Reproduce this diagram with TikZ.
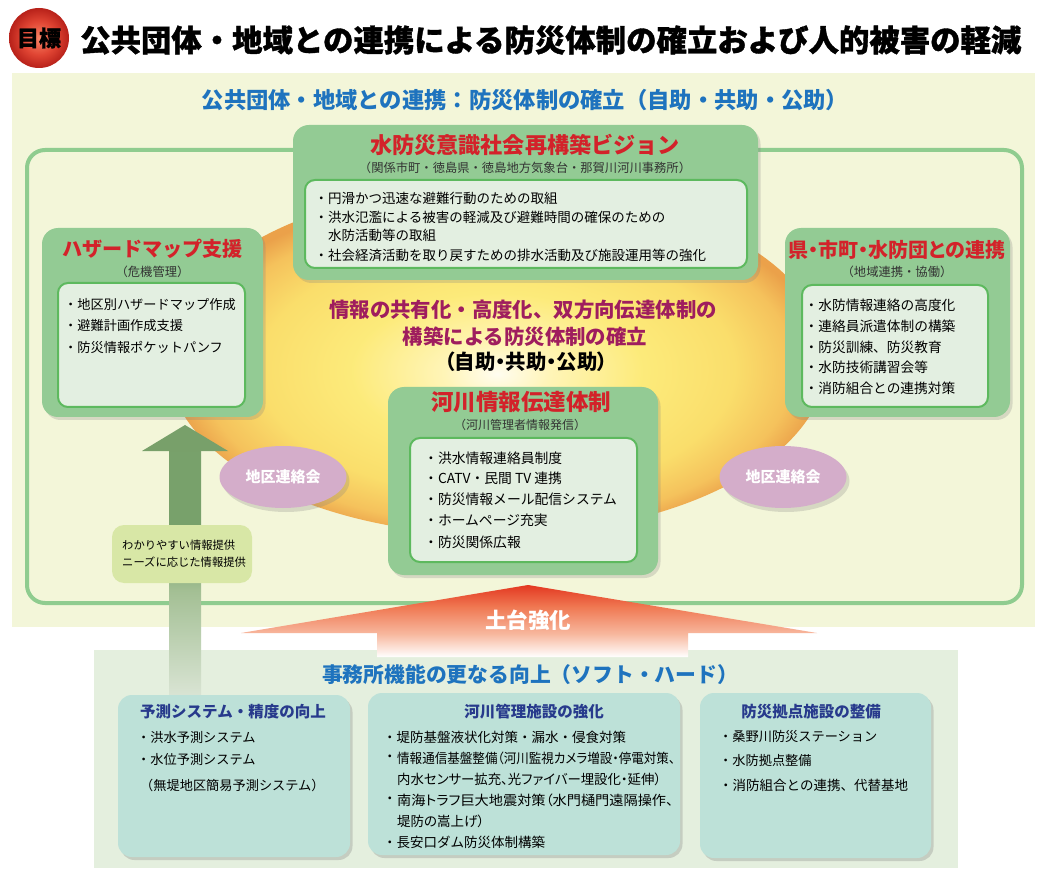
\documentclass[tikz,border=0pt]{standalone}
\usepackage{fontspec}
\setmainfont{Noto Sans CJK JP}
\newfontfamily\jpp[RawFeature=+palt]{Noto Sans CJK JP}
\newfontfamily\heavy[BoldFeatures={FakeBold=1.2}]{Noto Sans CJK JP}
\usetikzlibrary{shadows,shapes.geometric}
\newcommand\fsz[1]{\fontsize{#1}{#1}\selectfont}
\definecolor{panel}{HTML}{F3F6D9}
\definecolor{bpanel}{HTML}{E4EFDE}
\definecolor{framegreen}{HTML}{8FCC8F}
\definecolor{boxgreen}{HTML}{93CB94}
\definecolor{innerfill}{HTML}{E3EFE1}
\definecolor{innerline}{HTML}{5DB95E}
\definecolor{titlered}{HTML}{D3222A}
\definecolor{magentat}{HTML}{9F1D5E}
\definecolor{topblue}{HTML}{1E73BE}
\definecolor{navyt}{HTML}{273A8C}
\definecolor{pinkell}{HTML}{D4ADCA}
\definecolor{labelg}{HTML}{D8E7A6}
\definecolor{tealbox}{HTML}{BDE1D8}
\definecolor{arrowg}{HTML}{78A06A}
\definecolor{subgray}{HTML}{333333}
\pgfdeclareradialshading{sun}{\pgfpoint{0bp}{-2bp}}{rgb(0bp)=(1,0.99,0.94); rgb(4bp)=(1,0.96,0.72); rgb(11bp)=(0.99,0.92,0.48); rgb(18bp)=(0.98,0.87,0.42); rgb(22.5bp)=(0.96,0.76,0.36); rgb(25bp)=(0.92,0.63,0.29); rgb(50bp)=(0.92,0.63,0.29)}
\pgfdeclareradialshading{ballred}{\pgfpoint{0bp}{0bp}}{rgb(0bp)=(0.98,0.52,0.4); rgb(14bp)=(0.88,0.27,0.2); rgb(25bp)=(0.72,0.13,0.1); rgb(50bp)=(0.72,0.13,0.1)}
\pgfdeclareverticalshading{redup}{100bp}{rgb(0bp)=(1,1,1); rgb(25bp)=(1,1,1); rgb(41bp)=(0.97,0.72,0.62); rgb(60bp)=(0.94,0.47,0.32); rgb(75bp)=(0.89,0.22,0.13); rgb(100bp)=(0.89,0.22,0.13)}
\pgfdeclareverticalshading{shaftfade}{100bp}{rgb(0bp)=(0.86,0.9,0.84); rgb(25bp)=(0.86,0.9,0.84); rgb(47bp)=(0.64,0.75,0.58); rgb(55bp)=(0.47,0.63,0.42); rgb(100bp)=(0.47,0.63,0.42)}
\tikzset{
  greenbox/.style={draw=none, fill=boxgreen, rounded corners=16pt, inner sep=0pt,
    drop shadow={opacity=0.25, shadow xshift=2.5pt, shadow yshift=-3pt}},
  innerbox/.style={draw=innerline, line width=2pt, fill=innerfill, rounded corners=10pt, inner sep=0pt},
  tealb/.style={draw=none, fill=tealbox, rounded corners=14pt, inner sep=0pt,
    drop shadow={opacity=0.3, shadow xshift=2.5pt, shadow yshift=-3pt}},
  item/.style={anchor=west, inner sep=0pt, text=black},
  redtitle/.style={inner sep=0pt, text=titlered},
  subt/.style={inner sep=0pt, text=subgray},
  navytitle/.style={inner sep=0pt, text=navyt, font=\fsz{15.5}\bfseries},
  pinkel/.style={ellipse, fill=pinkell, inner sep=0pt, minimum width=127pt, minimum height=62pt,
    text=white, font=\fsz{15}\bfseries, drop shadow={opacity=0.25, shadow xshift=3pt, shadow yshift=-4pt}},
}
\begin{document}
\begin{tikzpicture}[x=1pt,y=-1pt]
\useasboundingbox (0,0) rectangle (1045,877);
\fill[white] (0,0) rectangle (1045,877);
% title
\node[circle, minimum size=60pt, inner sep=0pt, shading=ballred] (ball) at (39,38) {};
\node[inner sep=0pt] (balltext) at (ball.center) {\heavy\fsz{22}\bfseries 目標};
\node[anchor=west, inner sep=0pt] (maintitle) at (80,40) {\heavy\fsz{30.4}\bfseries 公共団体・地域との連携による防災体制の確立および人的被害の軽減};
% panels
\fill[panel] (12,73) rectangle (1035,627);
\fill[bpanel] (94,650) rectangle (958,868);
\node[inner sep=0pt, text=topblue] (toptitle) at (525,100) {\fsz{22.3}\bfseries 公共団体・地域との連携：防災体制の確立（自助・共助・公助）};
\draw[framegreen, line width=4pt, rounded corners=18pt] (27,150) rectangle (1022,603);
% sun
\path[shading=sun] (497,360) ellipse [x radius=330pt, y radius=175pt];
% green up arrow
\path[shading=shaftfade] (169,451) rectangle (201,700);
\fill[arrowg] (185,425) -- (228,451) -- (142,451) -- cycle;
\node[fill=labelg, rounded corners=12pt, minimum width=140pt, minimum height=58pt, inner sep=0pt] (label) at (182,554) {};
\node[anchor=west, inner sep=0pt, align=left] (labeltext) at (122,554) {\fsz{11.3}わかりやすい情報提供\\[5pt]\fsz{11.3}ニーズに応じた情報提供};
% red arrow
\path[shading=redup] (528,585) -- (817,633) -- (688,633) -- (688,657) -- (377,657) -- (377,633) -- (241,633) -- cycle;
\node[inner sep=0pt, text=white] (dodai) at (528,620) {\fsz{21.5}\bfseries 土台強化};
% top box
\node[greenbox, minimum width=465pt, minimum height=155pt] (topbox) at (525.5,202.5) {};
\node[redtitle] (toptitle2) at (525,145) {\fsz{22.1}\bfseries 水防災意識社会再構築ビジョン};
\node[subt] (topsub) at (525,168) {\fsz{12.3}（関係市町・徳島県・徳島地方気象台・那賀川河川事務所）};
\node[innerbox, minimum width=442pt, minimum height=88pt] (topinner) at (526,224) {};
\node[item] (t1) at (314.5,198) {\fsz{13.5}・円滑かつ迅速な避難行動のための取組};
\node[item] (t2) at (314.5,217) {\fsz{13.5}・洪水氾濫による被害の軽減及び避難時間の確保のための};
\node[item] (t3) at (328,235.5) {\fsz{13.5}水防活動等の取組};
\node[item] (t4) at (314.5,255) {\fsz{13.5}・社会経済活動を取り戻すための排水活動及び施設運用等の強化};
% left box
\node[greenbox, minimum width=221pt, minimum height=189pt] (leftbox) at (152.5,322.5) {};
\node[redtitle] (lefttitle) at (152.5,249) {\fsz{20.1}\bfseries ハザードマップ支援};
\node[subt] (leftsub) at (152.5,272) {\fsz{12.3}（危機管理）};
\node[innerbox, minimum width=187pt, minimum height=124pt] (leftinner) at (151.5,345) {};
\node[item] (l1) at (64,305) {\fsz{13.2}・地区別ハザードマップ作成};
\node[item] (l2) at (64,326) {\fsz{13.2}・避難計画作成支援};
\node[item] (l3) at (64,347) {\fsz{13.2}・防災情報ポケットパンフ};
% right box
\node[greenbox, minimum width=225pt, minimum height=189pt] (rightbox) at (897.5,322.5) {};
\node[redtitle] (righttitle) at (897,250) {\jpp\fsz{20}\bfseries 県・市町・水防団との連携};
\node[subt] (rightsub) at (897,272) {\fsz{12.3}（地域連携・協働）};
\node[innerbox, minimum width=186pt, minimum height=122pt] (rightinner) at (895,346) {};
\node[item] (r1) at (804.5,305) {\fsz{13.7}・水防情報連絡の高度化};
\node[item] (r2) at (804.5,326) {\fsz{13.7}・連絡員派遣体制の構築};
\node[item] (r3) at (804.5,347) {\fsz{13.7}・防災訓練、防災教育};
\node[item] (r4) at (804.5,367) {\fsz{13.7}・水防技術講習会等};
\node[item] (r5) at (804.5,388) {\fsz{13.7}・消防組合との連携対策};
% center text
\node[inner sep=0pt, text=magentat] (c1) at (523,310) {\fsz{20.4}\bfseries 情報の共有化・高度化、双方向伝達体制の};
\node[inner sep=0pt, text=magentat] (c2) at (525,337) {\fsz{20.4}\bfseries 構築による防災体制の確立};
\node[inner sep=0pt, text=black] (c3) at (526,362) {\jpp\fsz{20.4}\bfseries （自助・共助・公助）};
% center box
\node[greenbox, minimum width=270pt, minimum height=188pt] (centerbox) at (523,481) {};
\node[redtitle] (centertitle) at (521,402) {\fsz{22.5}\bfseries 河川情報伝達体制};
\node[subt] (centersub) at (520,425) {\fsz{12}（河川管理者情報発信）};
\node[innerbox, minimum width=227pt, minimum height=124pt] (centerinner) at (523.5,500) {};
\node[item] (m1) at (424,458) {\fsz{13.8}・洪水情報連絡員制度};
\node[item] (m2) at (424,478) {\fsz{13.8}・CATV・民間 TV 連携};
\node[item] (m3) at (424,499) {\fsz{13.8}・防災情報メール配信システム};
\node[item] (m4) at (424,520) {\fsz{13.8}・ホームページ充実};
\node[item] (m5) at (424,542) {\fsz{13.8}・防災関係広報};
% district ellipses
\node[pinkel] (dleft) at (283,477) {地区連絡会};
\node[pinkel] (dright) at (783,477) {地区連絡会};
% bottom section
\node[inner sep=0pt, text=topblue] (bottomtitle) at (530,675) {\fsz{20.8}\bfseries 事務所機能の更なる向上（ソフト・ハード）};
\node[tealb, minimum width=232pt, minimum height=162pt] (b1) at (234,776) {};
\node[navytitle] (b1t) at (233,712) {予測システム・精度の向上};
\node[item] (b1a) at (137,738) {\fsz{13.2}・洪水予測システム};
\node[item] (b1b) at (137,760) {\fsz{13.2}・水位予測システム};
\node[item] (b1c) at (140,785) {\fsz{13.2}（無堤地区簡易予測システム）};
\node[tealb, minimum width=312pt, minimum height=162pt] (b2) at (524,774) {};
\node[navytitle] (b2t) at (534,712) {河川管理施設の強化};
\node[item] (b2a) at (383,737) {\fsz{13.5}・堤防基盤液状化対策・漏水・侵食対策};
\node[item] (b2bd) at (383,758) {\fsz{13.5}・};
\node[item] (b2b) at (397,758) {\resizebox{278pt}{\height}{\jpp\fsz{13.5}情報通信基盤整備（河川監視カメラ増設・停電対策、}};
\node[item] (b2c) at (397,779) {\resizebox{264pt}{\height}{\jpp\fsz{13.5}内水センサー拡充、光ファイバー埋設化・延伸）}};
\node[item] (b2dd) at (383,800) {\fsz{13.5}・};
\node[item] (b2d) at (397,800) {\resizebox{276pt}{\height}{\jpp\fsz{13.5}南海トラフ巨大地震対策（水門樋門遠隔操作、}};
\node[item] (b2e) at (397,821) {\jpp\fsz{13.5}堤防の嵩上げ）};
\node[item] (b2f) at (383,842) {\fsz{13.5}・長安口ダム防災体制構築};
\node[tealb, minimum width=231pt, minimum height=165pt] (b3) at (815.5,775.5) {};
\node[navytitle] (b3t) at (811,712) {防災拠点施設の整備};
\node[item] (b3a) at (719,737) {\fsz{13.2}・桑野川防災ステーション};
\node[item] (b3b) at (719,760) {\fsz{13.2}・水防拠点整備};
\node[item] (b3c) at (719,785) {\fsz{13.5}・消防組合との連携、代替基地};
\end{tikzpicture}
\end{document}
